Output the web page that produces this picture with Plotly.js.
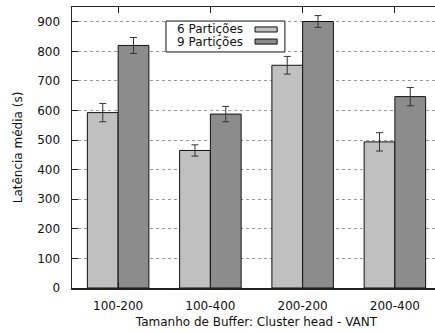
<!DOCTYPE html>
<html>
<head>
<meta charset="utf-8">
<script src="https://cdn.plot.ly/plotly-3.0.1.min.js"></script>
<style>
html, body { margin: 0; padding: 0; overflow: hidden; background: #fff; }
#chart { width: 441px; height: 332px; }
</style>
</head>
<body>
<div id="chart"></div>
<script>
// ---- data ----
const categories = ["100-200", "100-400", "200-200", "200-400"];
const seriesNames = ["6 Partições", "9 Partições"];
const values6 = [593, 465, 753, 494];
const errors6 = [31, 19, 30, 31];
const values9 = [820, 588, 901, 647];
const errors9 = [27, 26, 20, 31];
const seriesColors = ["#c0c0c0", "#8c8c8c"];

const font = { family: "DejaVu Sans", size: 12, color: "#111" };

function barTrace(name, vals, errs, color) {
  return {
    type: "bar",
    name: name,
    x: categories,
    y: vals,
    marker: { color: color, line: { color: "#111", width: 1 } },
    error_y: { type: "data", array: errs, visible: true, color: "#333", thickness: 1, width: 3.5 },
    showlegend: false,
    hoverinfo: "x+y"
  };
}

const data = [
  barTrace(seriesNames[0], values6, errors6, seriesColors[0]),
  barTrace(seriesNames[1], values9, errors9, seriesColors[1])
];

// custom legend (text left, swatch right), in paper coordinates
const legendRowsY = [0.920, 0.877];
const swatchRowsY = [[0.911, 0.929], [0.868, 0.886]];
const shapes = [
  { type: "rect", xref: "paper", yref: "paper", x0: 0.2547, x1: 0.577, y0: 0.840, y1: 0.950,
    fillcolor: "#fff", line: { color: "#111", width: 1 }, layer: "above" }
];
const annotations = [];
seriesNames.forEach((n, i) => {
  annotations.push({ xref: "paper", yref: "paper", x: 0.4688, y: legendRowsY[i], text: n,
    showarrow: false, xanchor: "right", yanchor: "middle", font: font });
  shapes.push({ type: "rect", xref: "paper", yref: "paper", x0: 0.496, x1: 0.556,
    y0: swatchRowsY[i][0], y1: swatchRowsY[i][1], fillcolor: seriesColors[i],
    line: { color: "#111", width: 1 }, layer: "above" });
});

const layout = {
  width: 441, height: 332,
  margin: { l: 72, r: 0, t: 7, b: 44, pad: 0 },
  paper_bgcolor: "#fff", plot_bgcolor: "#fff",
  font: font,
  barmode: "group", bargap: 1/3, bargroupgap: 0,
  xaxis: {
    type: "category", range: [-0.5, 3.5],
    showline: true, linecolor: "#222", linewidth: 1.5, mirror: "ticks",
    ticks: "inside", ticklen: 6, tickcolor: "#222",
    ticklabelstandoff: 6,
    showgrid: false, zeroline: false,
    tickfont: font,
    title: { text: "Tamanho de Buffer: Cluster head - VANT", font: font, standoff: 5 },
    automargin: false, fixedrange: true
  },
  yaxis: {
    range: [0, 950], dtick: 100, tick0: 0,
    showline: true, linecolor: "#222", linewidth: 1.5, mirror: "ticks",
    ticks: "inside", ticklen: 6, tickcolor: "#222",
    ticklabelstandoff: 8,
    showgrid: true, gridcolor: "#9a9a9a", griddash: "dot", gridwidth: 1,
    zeroline: false,
    tickfont: font,
    title: { text: "Latência média (s)", font: font, standoff: 12 },
    automargin: false, fixedrange: true
  },
  shapes: shapes,
  annotations: annotations,
  showlegend: false
};

Plotly.newPlot("chart", data, layout, { displayModeBar: false, staticPlot: true });
</script>
</body>
</html>
